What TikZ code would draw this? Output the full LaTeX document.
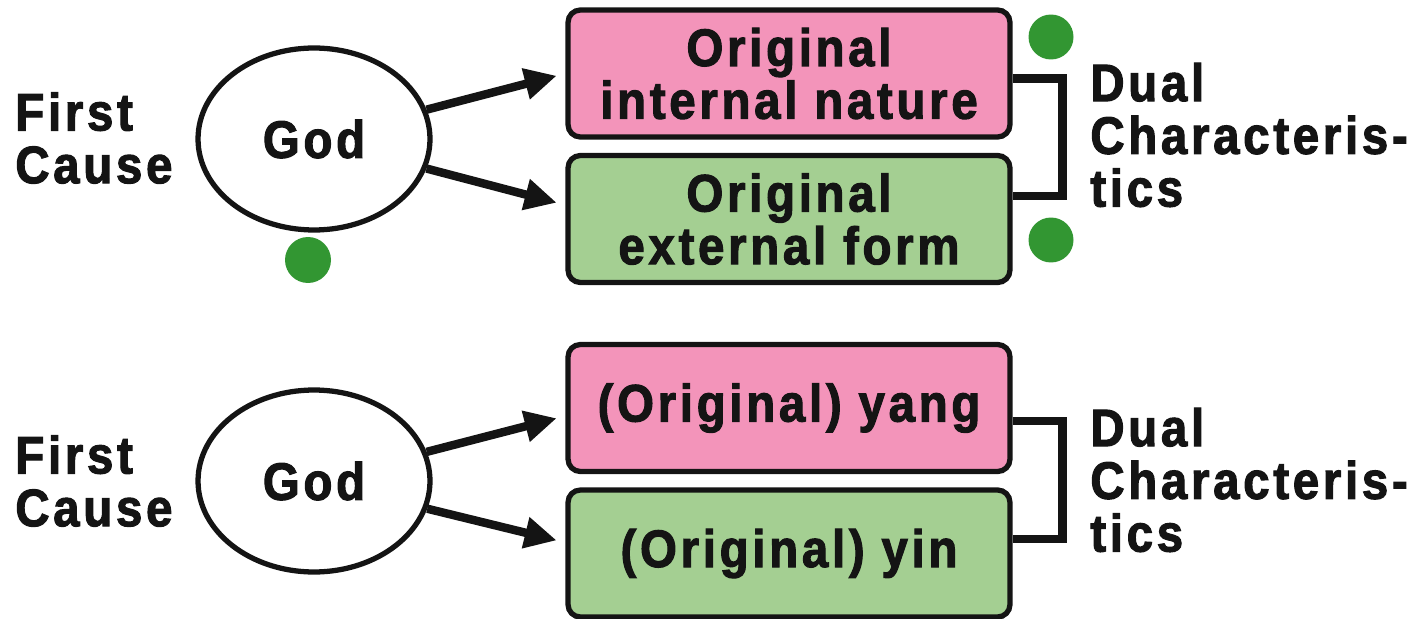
\documentclass[tikz,border=0pt]{standalone}
\usepackage{fontspec}
\setmainfont{Liberation Sans}[LetterSpace=7, FakeStretch=0.9, BoldFeatures={FakeBold=2}]
\usetikzlibrary{calc}
\usetikzlibrary{arrows.meta}
\usetikzlibrary{shapes.geometric}

\definecolor{boxpink}{RGB}{243,148,186}
\definecolor{boxgreen}{RGB}{164,207,146}
\definecolor{dotgreen}{RGB}{50,150,50}
\definecolor{ink}{RGB}{20,20,20}

\begin{document}
\begin{tikzpicture}[x=0.02cm, y=-0.02cm,
  every node/.style={text=ink, font=\bfseries\fontsize{30}{30}\selectfont, inner sep=0pt},
  cause/.style={align=left, anchor=west},
  god/.style={ellipse, draw=ink, line width=3pt, minimum width=4.64cm, minimum height=3.64cm},
  quality/.style={rectangle, rounded corners=7pt, draw=ink, line width=3pt, minimum width=8.84cm, minimum height=2.54cm, align=center},
  arr/.style={-{Triangle[length=0.64cm, width=0.6cm]}, line width=4.8pt, draw=ink, shorten >=0.18cm},
  bracket/.style={draw=ink, line width=5pt}]

\useasboundingbox (0,0) rectangle (1425,618);

\node[cause] (cause1) at (15,138) {First\\Cause};
\node[god] (god1) at (314,139) {God};
\node[quality, fill=boxpink] (inner) at (789,73.5) {Original\\internal nature};
\node[quality, fill=boxgreen] (outer) at (789,219) {Original\\external form};
\node[cause] (dual1) at (1090,135) {Dual\\Characteris-\\tics};

\draw[arr] (god1) -- (inner.west);
\draw[arr] (god1) -- ($(outer.west)+(0,-14)$);
\draw[bracket] ($(inner.east)+(0,5)$) -- ++(50,0) |- ($(outer.east)+(0,-23)$);

\fill[dotgreen] (308,260) circle (0.46cm);
\fill[dotgreen] (1051,37) circle (0.45cm);
\fill[dotgreen] (1051,240) circle (0.45cm);

\node[cause] (cause2) at (15,481) {First\\Cause};
\node[god] (god2) at (314,481) {God};
\node[quality, fill=boxpink] (yang) at (789,408) {(Original) yang};
\node[quality, fill=boxgreen] (yin) at (789,553.5) {(Original) yin};
\node[cause] (dual2) at (1090,480) {Dual\\Characteris-\\tics};

\draw[arr] (god2) -- ($(yang.west)+(0,8)$);
\draw[arr] (god2) -- ($(yin.west)+(0,-11)$);
\draw[bracket] ($(yang.east)+(0,13)$) -- ++(50,0) |- ($(yin.east)+(0,-14.5)$);

\end{tikzpicture}
\end{document}
